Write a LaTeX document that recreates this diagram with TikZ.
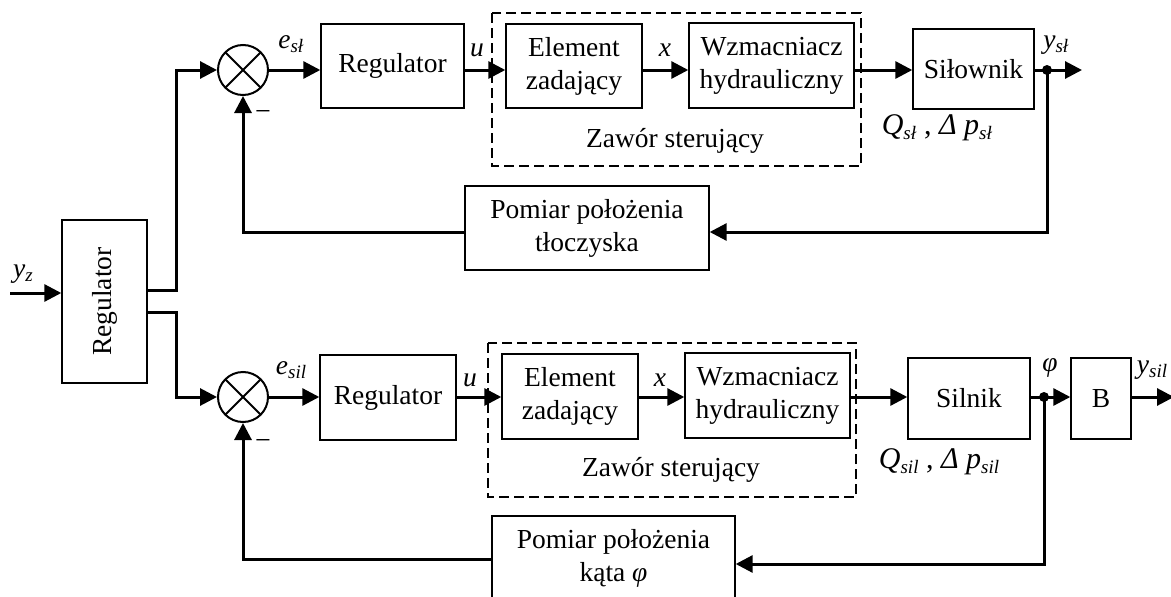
\documentclass[tikz,border=0pt]{standalone}
\usepackage{fontspec}
\setmainfont{Liberation Serif}
\usetikzlibrary{arrows.meta}

% italic symbol with a lowered italic index
\newcommand\symsub[2]{\textit{#1}\raisebox{-0.35ex}{\fontsize{19}{19}\selectfont\textit{#2}}}

\begin{document}
\begin{tikzpicture}[x=1pt,y=-1pt,
  font=\fontsize{27.5}{33}\selectfont,
  blk/.style={draw, line width=1.4pt, align=center, inner sep=0pt},
  sig/.style={line width=3pt, -{Triangle[length=17pt,width=17pt]}},
  wire/.style={line width=3pt},
  grp/.style={draw, line width=1.3pt, dash pattern=on 10pt off 5pt},
  sumj/.style={draw, circle, line width=2pt, minimum size=50pt, inner sep=0pt,
    path picture={
      \draw[line width=2pt] (path picture bounding box.center) ++(45:25pt) -- ++(225:50pt);
      \draw[line width=2pt] (path picture bounding box.center) ++(135:25pt) -- ++(315:50pt);
    }},
  lab/.style={inner sep=0pt},
  flow/.style={inner sep=0pt, font=\fontsize{30}{30}\selectfont},
  neg/.style={inner sep=0pt, font=\fontsize{28}{28}\selectfont}]

\clip (0,0) rectangle (1171,597);

% ---------- master controller ----------
\node[blk, minimum width=85pt, minimum height=163pt] (lreg) at (104.5,301.5) {\rotatebox{90}{Regulator}};
\coordinate (yzin) at (10,293);
\draw[sig] (yzin) -- (yzin -| lreg.west);
\node[lab] (yz) at (23,274) {\symsub{y}{z}};
\coordinate (split) at (176,0);

% ---------- upper loop: actuator position ----------
\node[sumj] (sum1) at (243,70) {};
\node[blk, minimum width=143pt, minimum height=84pt] (reg1) at (392.5,66) {Regulator};
\node[blk, minimum width=136pt, minimum height=84pt] (el1) at (574,66) {Element\\zadający};
\node[blk, minimum width=165pt, minimum height=85pt] (wz1) at (771.5,65.5) {Wzmacniacz\\hydrauliczny};
\node[blk, minimum width=121pt, minimum height=80pt] (sil1) at (973.5,69) {Siłownik};
\node[blk, minimum width=244pt, minimum height=84pt] (pm1) at (587,228) {Pomiar położenia\\tłoczyska};
\draw[grp] (492,13) rectangle (861,166);
\node[lab] (zaw1) at (675,141) {Zawór sterujący};

\coordinate (dot1) at (1047,70);
\coordinate (out1) at (1082,70);
\coordinate (fb1) at (0,232);

\draw[sig] ([yshift=11.5pt]lreg.east) -| (split |- sum1) -- (sum1.west);
\draw[sig] (sum1.east) -- (reg1.west |- sum1);
\draw[sig] (reg1.east |- sum1) -- (el1.west |- sum1);
\draw[sig] (el1.east |- sum1) -- (wz1.west |- sum1);
\draw[sig] (wz1.east |- sum1) -- (sil1.west |- sum1);
\draw[wire] (sil1.east |- sum1) -- (dot1);
\draw[sig] (dot1) -- (out1);
\draw[sig] (dot1) |- (pm1.east |- fb1);
\draw[sig] (pm1.west |- fb1) -| (sum1.south);
\fill (dot1) circle (5pt);

\node[lab] (e1) at (291,44) {\symsub{e}{sł}};
\node[lab] (u1) at (477,50) {\textit{u}};
\node[lab] (x1) at (665,50) {\textit{x}};
\node[lab] (y1) at (1056,45) {\symsub{y}{sł}};
\node[flow] (q1) at (937,128) {\symsub{Q}{sł} , \symsub{Δ p}{sł}};
\node[neg] (m1) at (263,116) {−};

% ---------- lower loop: motor angle ----------
\node[sumj] (sum2) at (243,397) {};
\node[blk, minimum width=136pt, minimum height=85pt] (reg2) at (388,397.5) {Regulator};
\node[blk, minimum width=136pt, minimum height=85pt] (el2) at (570,396.5) {Element\\zadający};
\node[blk, minimum width=165pt, minimum height=85pt] (wz2) at (767.5,395.5) {Wzmacniacz\\hydrauliczny};
\node[blk, minimum width=122pt, minimum height=81pt] (sil2) at (969,398.5) {Silnik};
\node[blk, minimum width=60pt, minimum height=81pt] (bb) at (1101,398.5) {B};
\node[blk, minimum width=243pt, minimum height=84pt] (pm2) at (613.5,558) {Pomiar położenia\\kąta \textit{φ}};
\draw[grp] (488,343) rectangle (856,497);
\node[lab] (zaw2) at (671,470) {Zawór sterujący};

\coordinate (dot2) at (1044,397);
\coordinate (out2) at (1174,397);
\coordinate (fb2r) at (0,564);
\coordinate (fb2l) at (0,559);

\draw[sig] ([yshift=-10.5pt]lreg.east) -| (split |- sum2) -- (sum2.west);
\draw[sig] (sum2.east) -- (reg2.west |- sum2);
\draw[sig] (reg2.east |- sum2) -- (el2.west |- sum2);
\draw[sig] (el2.east |- sum2) -- (wz2.west |- sum2);
\draw[sig] (wz2.east |- sum2) -- (sil2.west |- sum2);
\draw[wire] (sil2.east |- sum2) -- (dot2);
\draw[sig] (dot2) -- (bb.west |- sum2);
\draw[sig] (bb.east |- sum2) -- (out2);
\draw[sig] (dot2) |- (pm2.east |- fb2r);
\draw[sig] (pm2.west |- fb2l) -| (sum2.south);
\fill (dot2) circle (5pt);

\node[lab] (e2) at (291,370) {\symsub{e}{sil}};
\node[lab] (u2) at (470,380) {\textit{u}};
\node[lab] (x2) at (660,380) {\textit{x}};
\node[lab] (phi) at (1050,368) {\textit{φ}};
\node[lab] (y2) at (1152,370) {\symsub{y}{sil}};
\node[flow] (q2) at (939,462) {\symsub{Q}{sil} , \symsub{Δ p}{sil}};
\node[neg] (m2) at (263,444) {−};

\end{tikzpicture}
\end{document}
